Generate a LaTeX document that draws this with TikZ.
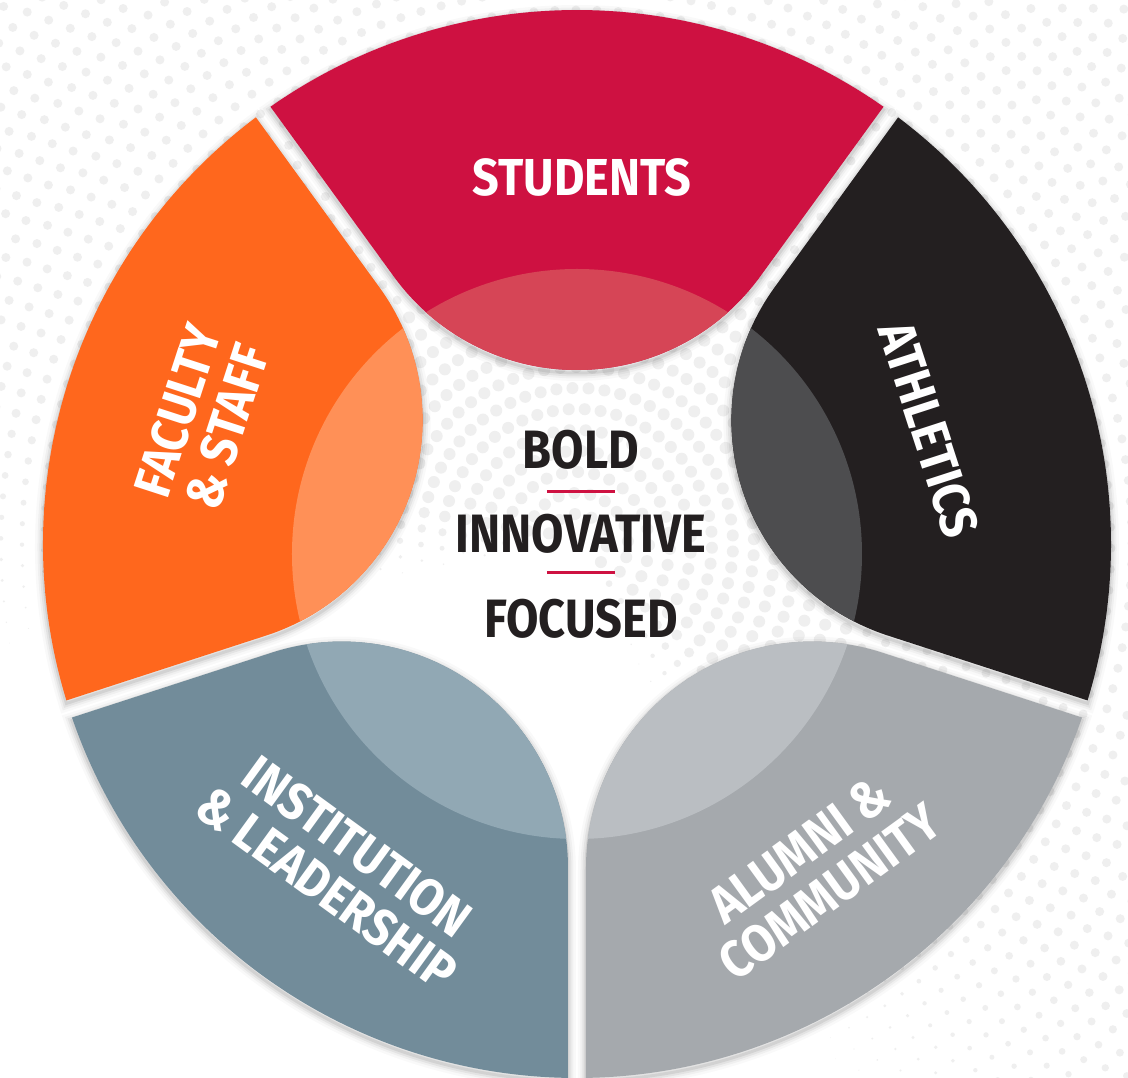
\documentclass[tikz,border=0pt]{standalone}
\usepackage{fontspec}
\setmainfont{Fira Sans}[FakeStretch=0.9]
\newfontfamily\midfam{Fira Sans}[FakeStretch=0.87]
\usepackage{graphicx}
\definecolor{cStu}{HTML}{CE1141}
\definecolor{cStuL}{HTML}{D64556}
\definecolor{cFac}{HTML}{FF671D}
\definecolor{cFacL}{HTML}{FF9057}
\definecolor{cAth}{HTML}{231F20}
\definecolor{cAthL}{HTML}{4D4D4F}
\definecolor{cIns}{HTML}{728C9A}
\definecolor{cInsL}{HTML}{91A8B4}
\definecolor{cAlu}{HTML}{A5A9AD}
\definecolor{cAluL}{HTML}{BABEC2}
\definecolor{dotc}{HTML}{EFEFEF}
\definecolor{txt}{HTML}{231F20}
\newcommand\labfont{\fontsize{52}{52}\selectfont\bfseries}
\newcommand\midfont{\midfam\fontsize{54}{60}\selectfont\bfseries}
\newcommand\petal{(-35.034:534) arc[start angle=-35.034, end angle=35.034, radius=534] -- (267.28,183.06) arc[start angle=126, end angle=234, radius=226.28] -- cycle}
\begin{document}
\begin{tikzpicture}[x=1pt,y=1pt,
  lab/.style={text=white, font=\labfont, inner sep=0pt, align=center},
  mid/.style={text=txt, font=\midfont, inner sep=0pt},
  sep/.style={draw=cStu, line width=3pt}]
\useasboundingbox (-577,-534) rectangle (551,544);
\fill[white] (-577,-534) rectangle (551,544);
% halftone dots
\begin{scope}
\clip (-577,-534) rectangle (551,544);
\foreach \i in {0,...,36} {
  \pgfmathsetmacro\rr{30+21*\i}
  \pgfmathsetmacro\sp{\rr<400 ? 16 : 21}
  \pgfmathsetmacro\dr{\rr<300 ? 6 : 4.5}
  \pgfmathtruncatemacro\n{2*pi*\rr/\sp}
  \pgfmathsetmacro\st{360/\n}
  \foreach \k in {1,...,\n} {
    \pgfmathsetmacro\a{-168+\st*(\k+0.5*mod(\i,2))}
    \pgfmathsetmacro\f{min(1,(\a+65)/25,(192-\a)/25)}
    \ifdim\f pt>0.05pt
      \fill[dotc] (\a:\rr) circle[radius=\dr*\f];
    \fi
  }
}
\end{scope}
% shadows
\foreach \ang in {90,18,-54,-126,162} {
  \foreach \w/\o in {16/0.025,11/0.035,7/0.05,3/0.07} {
    \draw[line width=\w, black, opacity=\o, shift={(0,-3)}, rotate=\ang] \petal;
  }
}
% petals
\foreach \ang/\c/\l in {90/cStu/cStuL,18/cAth/cAthL,-54/cAlu/cAluL,-126/cIns/cInsL,162/cFac/cFacL} {
  \fill[\c, rotate=\ang] \petal;
  \begin{scope}
    \clip[rotate=\ang] \petal;
    \fill[\l] (0,-10) circle[radius=285];
  \end{scope}
}
% labels
\node[lab] (stu) at (5,367) {STUDENTS};
\node[lab, rotate=-72] (ath) at (18:370) {ATHLETICS};
\node[lab, rotate=72] (fac) at (161.5:395) {FACULTY\\\& STAFF};
\node[lab, rotate=-36] (ins) at (234:400) {INSTITUTION\\\& LEADERSHIP};
\node[lab, rotate=36] (alu) at (306:404) {ALUMNI \&\\COMMUNITY};
% centre words
\node[mid] (bold) at (4,94) {BOLD};
\node[mid] (inno) at (4,10) {INNOVATIVE};
\node[mid] (focu) at (4,-74.5) {FOCUSED};
\draw[sep] (-30,52) -- (38,52);
\draw[sep] (-30,-29) -- (38,-29);
\end{tikzpicture}
\end{document}
